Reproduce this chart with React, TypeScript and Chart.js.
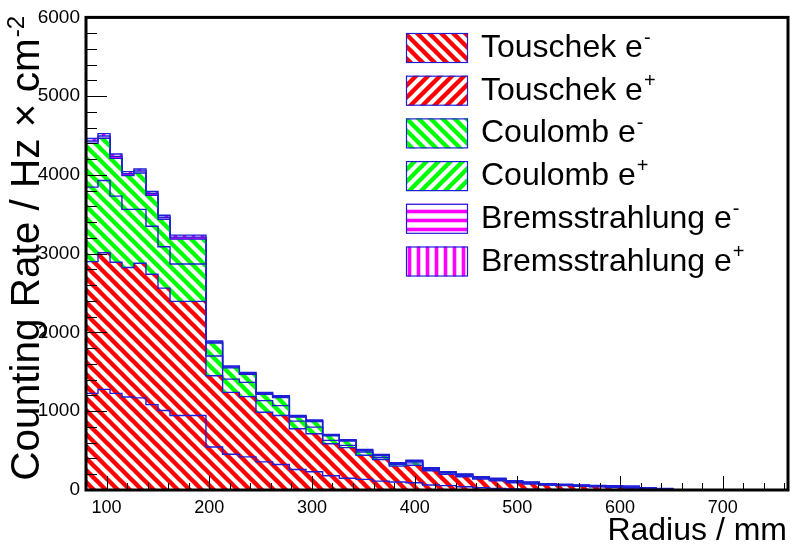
import React, { useEffect, useRef } from 'react';
import { Chart, registerables } from 'chart.js';

Chart.register(...registerables);

// ---- data ----
// histogram bin edges (mm)
const binEdges = [
  80.0, 91.7, 103.4, 115.0, 126.7, 138.4, 150.1, 161.8, 173.4, 185.1, 196.8,
  213.0, 229.3, 245.5, 261.7, 278.0, 294.2, 310.4, 326.6, 342.9, 359.1,
  375.3, 391.6, 407.8, 424.0, 440.3, 456.5, 472.7, 488.9, 505.2, 521.4,
  537.6, 553.9, 570.1, 586.3, 602.6, 618.8, 635.0, 651.2,
];

const touschekElectron = [
  1227, 1278, 1227, 1181, 1169, 1084, 1009, 946, 946, 946,
  546, 454, 420, 357, 324, 261, 231, 180, 150, 135,
  113, 101, 92, 63, 55, 42, 29, 21, 13, 9,
  8, 6, 5, 4, 3, 2, 1, 1,
];
const touschekPositron = [
  1672, 1735, 1664, 1643, 1709, 1656, 1554, 1449, 1449, 1449,
  904, 785, 765, 630, 621, 517, 483, 408, 388, 306,
  274, 202, 223, 181, 143, 126, 110, 97, 79, 67,
  54, 49, 43, 36, 27, 23, 14, 9,
];
const coulombElectron = [
  946, 916, 840, 739, 685, 609, 525, 475, 475, 475,
  252, 169, 181, 148, 126, 96, 84, 42, 29, 42,
  25, 21, 30, 18, 17, 17, 13, 12, 11, 12,
  5, 5, 4, 4, 3, 3, 2, 2,
];
const coulombPositron = [
  558, 537, 479, 429, 462, 391, 349, 315, 315, 315,
  164, 142, 102, 80, 104, 51, 72, 58, 55, 17,
  25, 10, 18, 8, 6, 6, 5, 4, 4, 4,
  3, 3, 3, 2, 2, 2, 1, 1,
];
const bremsElectron = [
  28, 28, 26, 24, 25, 24, 25, 25, 25, 25,
  12, 12, 12, 11, 11, 10, 10, 9, 9, 8,
  7, 7, 7, 6, 6, 6, 6, 8, 5, 5,
  5, 5, 5, 6, 10, 10, 5, 4,
];
const bremsPositron = [
  31, 31, 29, 26, 26, 26, 26, 26, 26, 26,
  13, 13, 12, 12, 12, 10, 10, 9, 9, 8,
  8, 7, 7, 6, 6, 6, 6, 8, 5, 5,
  5, 5, 5, 6, 10, 10, 5, 4,
];

const seriesNames = ['Touschek', 'Touschek', 'Coulomb', 'Coulomb', 'Bremsstrahlung', 'Bremsstrahlung'];
const seriesCharges = ['-', '+', '-', '+', '-', '+'];

const xTickValues = [100, 200, 300, 400, 500, 600, 700];
const yTickValues = [0, 1000, 2000, 3000, 4000, 5000, 6000];
const xRange = [80, 763.5];
const yRange = [0, 6000];
const xMinorStep = 20;
const yMinorStep = 200;
const xTitle = 'Radius / mm';
const yTitle = 'Counting Rate / Hz \u00D7 cm';
const yTitleSup = '-2';

// ---- styles ----
const FONT = "'Liberation Sans', Arial, Helvetica, sans-serif";
const seriesColors = ['#ff0000', '#ff0000', '#00ff00', '#00ff00', '#ff00ff', '#ff00ff'];
const plotHatch = ['back', 'back', 'back', 'back', 'horiz', 'vert'];
const legendHatch = ['back', 'fwd', 'back', 'fwd', 'horiz', 'vert'];
const outline = 'rgb(30,30,215)';

function makePattern(ctx: CanvasRenderingContext2D, color: string, kind: string): CanvasPattern {
  const diag = kind === 'back' || kind === 'fwd';
  const p = diag ? 12 : 9;
  const tile = document.createElement('canvas');
  tile.width = p;
  tile.height = p;
  const g = tile.getContext('2d')!;
  g.strokeStyle = color;
  g.lineWidth = diag ? 4.4 : 3.6;
  g.beginPath();
  if (kind === 'back') {
    for (const o of [-p, 0, p]) {
      g.moveTo(o - 2, -2);
      g.lineTo(o + p + 2, p + 2);
    }
  } else if (kind === 'fwd') {
    for (const o of [0, p, 2 * p]) {
      g.moveTo(o + 2, -2);
      g.lineTo(o - p - 2, p + 2);
    }
  } else if (kind === 'horiz') {
    g.moveTo(0, p / 2);
    g.lineTo(p, p / 2);
  } else {
    g.moveTo(p / 2, 0);
    g.lineTo(p / 2, p);
  }
  g.stroke();
  return ctx.createPattern(tile, 'repeat')!;
}

export default function App() {
  const ref = useRef<HTMLCanvasElement>(null);

  useEffect(() => {
    const canvas = ref.current!;
    const ctx = canvas.getContext('2d')!;
    const series = [touschekElectron, touschekPositron, coulombElectron, coulombPositron, bremsElectron, bremsPositron];
    const cum: number[][] = [];
    series.forEach((s, k) => {
      cum.push(s.map((v, i) => v + (k > 0 ? cum[k - 1][i] : 0)));
    });
    const last = binEdges.length - 1;
    const datasets = cum.map((c, k) => ({
      label: `${seriesNames[k]} e${seriesCharges[k]}`,
      data: [
        { x: binEdges[0], y: 0 },
        ...c.map((v, i) => ({ x: binEdges[i], y: v })),
        { x: binEdges[last], y: c[c.length - 1] },
        { x: binEdges[last], y: 0 },
      ],
      stepped: 'before' as const,
      fill: k === 0 ? 'origin' : '-1',
      backgroundColor: makePattern(ctx, seriesColors[k], plotHatch[k]),
      borderColor: outline,
      borderWidth: 1.4,
      pointRadius: 0,
      tension: 0,
    }));
    const legendPatterns = seriesColors.map((c, k) => makePattern(ctx, c, legendHatch[k]));

    const decor = {
      id: 'decor',
      afterDatasetsDraw(chart: any) {
        const { ctx: c, chartArea: a } = chart;
        const xs = chart.scales.x;
        const ys = chart.scales.y;
        c.save();
        c.strokeStyle = '#000';
        c.lineWidth = 1;
        c.beginPath();
        for (let v = Math.ceil(xRange[0] / xMinorStep) * xMinorStep; v <= xRange[1]; v += xMinorStep) {
          const px = Math.round(xs.getPixelForValue(v)) + 0.5;
          const len = v % 100 === 0 ? 14 : 7;
          c.moveTo(px, a.bottom);
          c.lineTo(px, a.bottom - len);
        }
        for (let v = yRange[0]; v <= yRange[1]; v += yMinorStep) {
          const py = Math.round(ys.getPixelForValue(v)) + 0.5;
          const len = v % 1000 === 0 ? 21 : 11;
          c.moveTo(a.left, py);
          c.lineTo(a.left + len, py);
        }
        c.stroke();
        c.lineWidth = 3;
        c.strokeRect(a.left, a.top, a.right - a.left, a.bottom - a.top);
        c.restore();
      },
      afterDraw(chart: any) {
        const c = chart.ctx as CanvasRenderingContext2D;
        c.save();
        c.fillStyle = '#000';
        // x title
        c.font = `32px ${FONT}`;
        c.textAlign = 'right';
        c.textBaseline = 'alphabetic';
        c.fillText(xTitle, 787, 540);
        // y title (rotated, ending at top)
        c.textAlign = 'left';
        c.font = `40.5px ${FONT}`;
        const wMain = c.measureText(yTitle).width;
        c.font = `24px ${FONT}`;
        const wSup = c.measureText(yTitleSup).width;
        c.translate(39, 17 + wMain + wSup);
        c.rotate(-Math.PI / 2);
        c.font = `40.5px ${FONT}`;
        c.fillText(yTitle, 0, 0);
        c.font = `24px ${FONT}`;
        c.fillText(yTitleSup, wMain + 1, -15);
        c.setTransform(1, 0, 0, 1, 0, 0);
        c.restore();

        // legend
        c.save();
        const boxX = 406, boxW = 62, boxH = 30, top = 48, gap = 42.7, textX = 481;
        for (let k = 0; k < seriesNames.length; k++) {
          const cy = top + k * gap;
          c.fillStyle = '#fff';
          c.fillRect(boxX, cy - boxH / 2, boxW, boxH);
          c.fillStyle = legendPatterns[k];
          c.fillRect(boxX, cy - boxH / 2, boxW, boxH);
          c.strokeStyle = outline;
          c.lineWidth = 1.2;
          c.strokeRect(boxX + 0.5, cy - boxH / 2 + 0.5, boxW - 1, boxH - 1);
          c.fillStyle = '#000';
          c.textAlign = 'left';
          c.textBaseline = 'alphabetic';
          c.font = `32px ${FONT}`;
          const main = `${seriesNames[k]} e`;
          c.fillText(main, textX, cy + 9);
          const w = c.measureText(main).width;
          c.font = `20px ${FONT}`;
          c.fillText(seriesCharges[k], textX + w + 1, cy - 4);
        }
        c.restore();
      },
    };

    const chart = new Chart(canvas, {
      type: 'line',
      data: { datasets: datasets as any },
      options: {
        animation: false,
        responsive: true,
        maintainAspectRatio: false,
        events: [],
        layout: { padding: { top: 15, right: 3, left: 0, bottom: 0 } },
        plugins: {
          legend: { display: false },
          tooltip: { enabled: false },
          filler: { propagate: false },
        },
        scales: {
          x: {
            type: 'linear',
            min: xRange[0],
            max: xRange[1],
            grid: { display: false, drawTicks: false },
            border: { display: false },
            afterBuildTicks: (s: any) => {
              s.ticks = xTickValues.map((v) => ({ value: v }));
            },
            afterFit: (s: any) => {
              s.height = 56;
            },
            ticks: {
              padding: 7,
              color: '#000',
              maxRotation: 0,
              autoSkip: false,
              font: { family: FONT, size: 18 },
              callback: (v: any) => String(v),
            },
          },
          y: {
            type: 'linear',
            min: yRange[0],
            max: yRange[1],
            grid: { display: false, drawTicks: false },
            border: { display: false },
            afterBuildTicks: (s: any) => {
              s.ticks = yTickValues.map((v) => ({ value: v }));
            },
            afterFit: (s: any) => {
              s.width = 86;
            },
            ticks: {
              padding: 6,
              color: '#000',
              autoSkip: false,
              font: { family: FONT, size: 19 },
              callback: (v: any) => String(v),
            },
          },
        },
      },
      plugins: [decor],
    });
    return () => chart.destroy();
  }, []);

  return (
    <div style={{ position: 'absolute', left: 0, top: 0, width: 791, height: 546, background: '#fff' }}>
      <canvas ref={ref} />
    </div>
  );
}
